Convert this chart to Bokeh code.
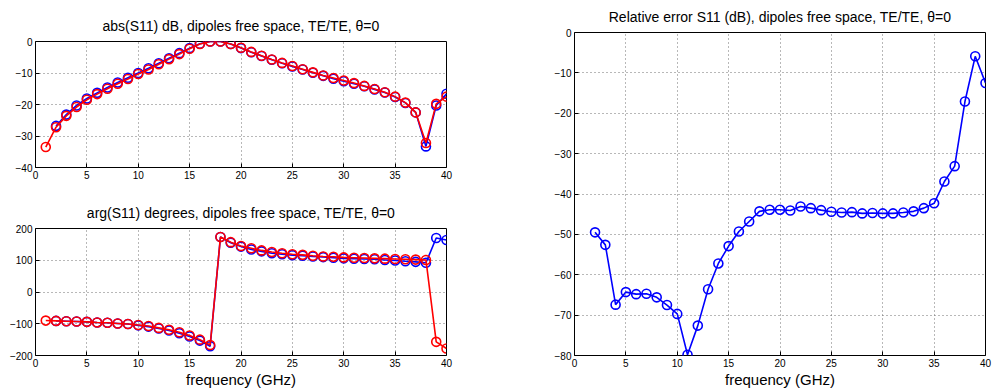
from bokeh.plotting import figure
from bokeh.models import Range1d, FixedTicker, CustomJSTickFormatter, LinearAxis
from bokeh.layouts import row, column
from bokeh.embed import file_html
from bokeh.resources import INLINE

# ---------------- data ----------------
freq_red = list(range(1, 41))
freq_blue = list(range(2, 41))

abs_red = [-33.5, -27.2, -23.6, -20.8, -18.5, -16.7, -15.0, -13.4, -11.9, -10.3,
           -8.9, -7.2, -5.6, -4.0, -2.3, -0.8, 0.0, 0.0, -0.8, -2.0,
           -3.3, -4.5, -5.7, -6.8, -7.8, -8.8, -9.8, -10.8, -11.6, -12.4,
           -13.2, -14.1, -15.1, -16.1, -17.5, -19.4, -22.5, -32.2, -19.8, -17.5]
abs_blue = [-26.8, -23.2, -20.3, -18.1, -16.3, -14.6, -13.0, -11.5, -10.0,
            -8.5, -6.9, -5.3, -3.7, -2.1, -0.7, 0.0, 0.0, -0.8, -2.1,
            -3.4, -4.6, -5.8, -6.9, -7.9, -8.9, -9.9, -10.9, -11.8, -12.6,
            -13.4, -14.2, -15.2, -16.2, -17.6, -19.5, -22.5, -33.3, -20.3, -16.6]

arg_red = [-90, -91, -92, -93, -94, -96, -97, -99, -101, -104,
           -107, -113, -119, -127, -137, -150, -167, 173, 157, 145,
           138, 131, 126, 122, 119, 117, 114, 112, 111, 109,
           108, 107, 106, 105, 104, 103, 102, 101, -157, -178]
arg_blue = [-91, -92, -93, -94, -96, -97, -99, -101, -105,
            -109, -115, -121, -130, -140, -153, -171, 173, 155, 143,
            134, 128, 122, 119, 116, 114, 112, 110, 108, 106,
            105, 104, 103, 101, 99, 97, 95, 92, 170, 164]

err_freq = list(range(2, 41))
err_db = [-49.5, -52.6, -67.4, -64.3, -64.8, -64.7, -65.6, -67.5, -69.7,
          -79.8, -72.6, -63.6, -57.2, -52.9, -49.3, -46.8, -44.3, -43.9, -43.9,
          -44.1, -43.1, -43.5, -44.0, -44.4, -44.6, -44.5, -44.8, -44.7, -44.8,
          -44.8, -44.6, -44.3, -43.5, -42.3, -36.9, -33.1, -17.1, -5.9, -12.5]

x_ticks = [0, 5, 10, 15, 20, 25, 30, 35, 40]
abs_ticks = [-40, -30, -20, -10, 0]
arg_ticks = [-200, -100, 0, 100, 200]
err_ticks = [-80, -70, -60, -50, -40, -30, -20, -10, 0]

FONT = "Liberation Sans"
BLUE = "#0000ff"
RED = "#ff0000"


def make_fig(fw, fh, left, right, top, bottom, title, yr, yticks, xlabel=None):
    p = figure(frame_width=fw, frame_height=fh,
               min_border_left=left, min_border_right=right,
               min_border_top=top, min_border_bottom=bottom,
               x_range=Range1d(0, 40), y_range=Range1d(*yr),
               output_backend="svg", toolbar_location=None)
    p.background_fill_color = "white"
    p.border_fill_color = "white"
    p.outline_line_color = "black"
    p.outline_line_width = 1
    bottom_ax = p.below[0]
    left_ax = p.left[0]
    fmt = CustomJSTickFormatter(code="return String(tick).replace('-', '\\u2212');")
    for ax, ticks in ((bottom_ax, x_ticks), (left_ax, yticks)):
        ax.ticker = FixedTicker(ticks=ticks)
        ax.formatter = fmt
        ax.major_tick_in = 4
        ax.major_tick_out = 0
        ax.minor_tick_in = 0
        ax.minor_tick_out = 0
        ax.axis_line_color = None
        ax.major_tick_line_color = "black"
        ax.major_label_text_font = FONT
        ax.major_label_text_font_size = "10px"
        ax.major_label_text_color = "black"
        ax.major_label_standoff = 3
    if xlabel:
        bottom_ax.axis_label = xlabel
        bottom_ax.axis_label_text_font = FONT
        bottom_ax.axis_label_text_font_size = "15px"
        bottom_ax.axis_label_text_font_style = "normal"
        bottom_ax.axis_label_text_color = "black"
        bottom_ax.axis_label_standoff = 1
    p.xgrid[0].ticker = FixedTicker(ticks=x_ticks)
    p.ygrid[0].ticker = FixedTicker(ticks=yticks)
    for g in (p.xgrid[0], p.ygrid[0]):
        g.grid_line_color = "#707070"
        g.grid_line_dash = "1 3"
        g.grid_line_width = 1
    # title drawn as the label of a bare axis above the frame
    top_ax = LinearAxis(ticker=FixedTicker(ticks=[]), axis_label=title,
                        axis_line_color=None, major_tick_out=0, major_tick_in=0,
                        minor_tick_out=0, minor_tick_in=0,
                        major_label_standoff=0, major_label_text_font_size="1px",
                        axis_label_standoff=8, axis_label_text_font=FONT,
                        axis_label_text_font_size="14px",
                        axis_label_text_font_style="normal",
                        axis_label_text_color="black")
    p.add_layout(top_ax, "above")
    return p


p1 = make_fig(411, 126, 35, 24, 41, 20,
              "abs(S11) dB, dipoles free space, TE/TE, \u03b8=0", (-40, 0), abs_ticks)
p1.line(freq_blue, abs_blue, line_color=BLUE, line_width=1.6)
p1.scatter(freq_blue, abs_blue, marker="circle", size=9, fill_color=None,
           line_color=BLUE, line_width=1.6)
p1.line(freq_red, abs_red, line_color=RED, line_width=1.6)
p1.scatter(freq_red, abs_red, marker="circle", size=9, fill_color=None,
           line_color=RED, line_width=1.6)

p2 = make_fig(411, 127, 35, 24, 41, 37,
              "arg(S11) degrees, dipoles free space, TE/TE, \u03b8=0", (-200, 200), arg_ticks,
              xlabel="frequency (GHz)")
p2.line(freq_blue, arg_blue, line_color=BLUE, line_width=1.6)
p2.scatter(freq_blue, arg_blue, marker="circle", size=9, fill_color=None,
           line_color=BLUE, line_width=1.6)
p2.line(freq_red, arg_red, line_color=RED, line_width=1.6)
p2.scatter(freq_red, arg_red, marker="circle", size=9, fill_color=None,
           line_color=RED, line_width=1.6)

p3 = make_fig(411, 323, 104, 12, 32, 37,
              "Relative error S11 (dB), dipoles free space, TE/TE, \u03b8=0", (-80, 0), err_ticks,
              xlabel="frequency (GHz)")
p3.line(err_freq, err_db, line_color=BLUE, line_width=1.6)
p3.scatter(err_freq, err_db, marker="circle", size=9, fill_color=None,
           line_color=BLUE, line_width=1.6)

layout = row(column(p1, p2), p3)
open("out.html", "w").write(file_html(layout, INLINE))
